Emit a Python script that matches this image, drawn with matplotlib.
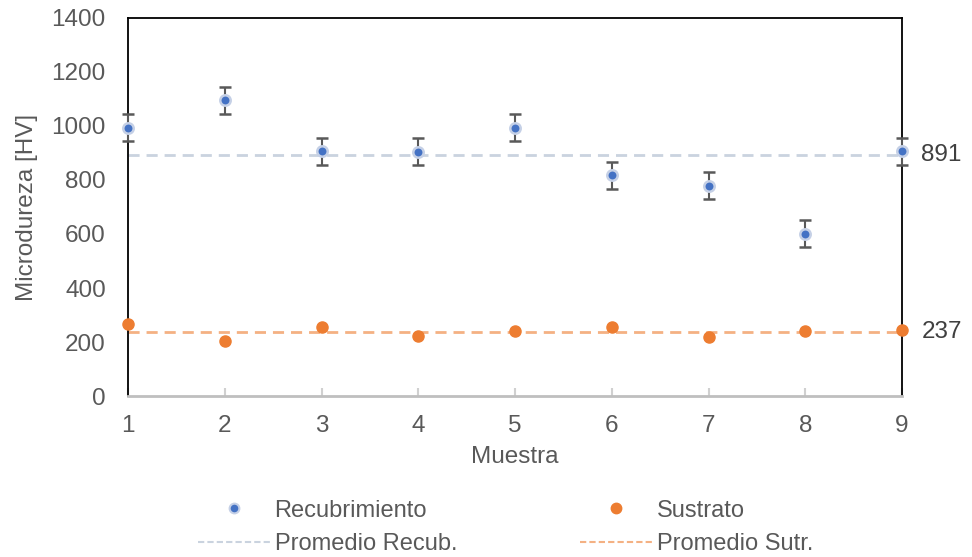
import matplotlib.pyplot as plt
from matplotlib.lines import Line2D
import numpy as np

plt.rcParams['font.family'] = ['Liberation Sans', 'DejaVu Sans']

muestras = [1, 2, 3, 4, 5, 6, 7, 8, 9]
recubrimiento = [993, 1096, 907, 904, 993, 818, 778, 600, 907]
error_recub = [50, 50, 50, 50, 50, 50, 50, 50, 50]
sustrato = [265, 203, 257, 224, 242, 257, 220, 239, 246]
promedio_recub = 891
promedio_sutr = 237

gray = '#595959'
blue = '#4472C4'
orange = '#ED7D31'


def plot_microdureza():
    fig = plt.figure(figsize=(9.72, 5.57), dpi=100, facecolor='w')
    ax = fig.add_axes([0.1317, 0.289, 0.7963, 0.6788])

    ax.errorbar(muestras, recubrimiento, yerr=error_recub, fmt='o', color=blue,
                markersize=7.5, markeredgecolor='#C5D0E6', markeredgewidth=1.8,
                ecolor=gray, elinewidth=1.5, capsize=4.5, capthick=1.5, zorder=3,
                clip_on=False)
    ax.plot([muestras[0], muestras[-1]], [promedio_recub] * 2, linestyle='--',
            color='#CAD3DF', linewidth=2, dashes=(4, 2.5), zorder=2)
    ax.plot(muestras, sustrato, 'o', color=orange, markersize=8, zorder=3, clip_on=False)
    ax.plot([muestras[0], muestras[-1]], [promedio_sutr] * 2, linestyle='--',
            color='#F4B183', linewidth=2, dashes=(4, 2.5), zorder=2)

    ax.text(muestras[-1] + 0.2, promedio_recub, str(promedio_recub), va='center', ha='left',
            fontsize=17.5, color='#404040')
    ax.text(muestras[-1] + 0.2, promedio_sutr, str(promedio_sutr), va='center', ha='left',
            fontsize=17.5, color='#404040')

    ax.set_xlim(1, 9)
    ax.set_ylim(0, 1400)
    ax.set_xticks(muestras)
    ax.set_yticks(np.arange(0, 1401, 200))
    ax.tick_params(axis='both', labelsize=17.5, labelcolor=gray)
    ax.tick_params(axis='y', length=0, pad=16)
    ax.tick_params(axis='x', direction='in', length=6, color='#D0D0D0', width=1.5, pad=14)
    for side in ['left', 'right', 'top']:
        ax.spines[side].set_color('black')
        ax.spines[side].set_linewidth(1.3)
    ax.spines['bottom'].set_color('#BFBFBF')
    ax.spines['bottom'].set_linewidth(2)

    ax.set_xlabel('Muestra', fontsize=17.5, color=gray, labelpad=6)
    ax.set_ylabel('Microdureza [HV]', fontsize=17.5, color=gray, labelpad=10)

    handles = [
        Line2D([], [], linestyle='none', marker='o', color=blue, markersize=7,
               markeredgecolor='#C5D0E6', markeredgewidth=1.5),
        Line2D([], [], linestyle='--', color='#CAD3DF', linewidth=1.5, dashes=(3, 1.5)),
        Line2D([], [], linestyle='none', marker='o', color=orange, markersize=7.5),
        Line2D([], [], linestyle='--', color='#F4B183', linewidth=1.5, dashes=(3, 1.5)),
    ]
    leg = fig.legend(handles,
                     ['Recubrimiento', 'Promedio Recub.', 'Sustrato', 'Promedio Sutr.'],
                     ncol=2, loc='center', bbox_to_anchor=(0.52, 0.053), frameon=False,
                     fontsize=17, columnspacing=5.2, handlelength=3.05, handletextpad=0.2,
                     labelspacing=0.5, borderaxespad=0)
    for t in leg.get_texts():
        t.set_color(gray)

    fig.savefig('out.png', dpi=100)


plot_microdureza()
